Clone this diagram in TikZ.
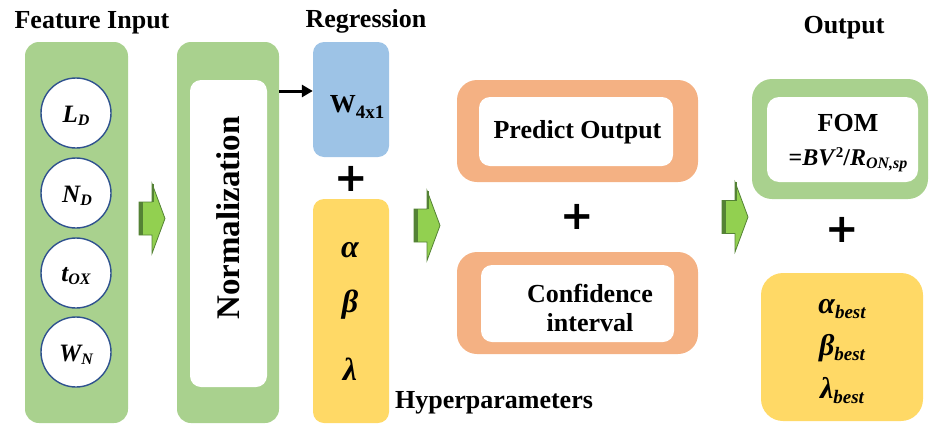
\documentclass[tikz,border=0pt]{standalone}
\usepackage{fontspec}
\setmainfont{Liberation Serif}
\newfontfamily\plusfont{DejaVu Sans}
\usetikzlibrary{calc,arrows.meta}

\definecolor{boxgreen}{HTML}{A9D18E}
\definecolor{boxblue}{HTML}{9DC3E6}
\definecolor{boxyellow}{HTML}{FFD966}
\definecolor{boxorange}{HTML}{F4B183}
\definecolor{arrowlight}{HTML}{92D050}
\definecolor{arrowdark}{HTML}{548235}
\definecolor{ringblue}{HTML}{2F528F}

\newcommand{\setsz}[1]{\fontsize{#1}{#1}\selectfont}
% subscripts set by hand in the serif text font
\newcommand{\lowsub}[2][3pt]{\raisebox{-#1}{\setsz{16}#2}}

% block arrow between stages: tail at (#2,#3), pointing right
\newcommand{\stagearrow}[3]{%
  \coordinate (#1) at (#2,#3);
  \begin{scope}[shift={(#1)}]
    \filldraw[fill=arrowlight, draw=arrowdark, line width=0.8pt]
      (0,-16.5) -- (13,-16.5) -- (13,-35) -- (26,0) -- (13,35) -- (13,16.5) -- (0,16.5) -- cycle;
    \fill[arrowdark] (0,-16.5) rectangle (4,16.5);
    \fill[arrowdark] (13,-35) rectangle (15,-16.5);
  \end{scope}}

\tikzset{
  panel/.style={rectangle, rounded corners=14pt, inner sep=0pt, draw=none},
  innerpanel/.style={rectangle, rounded corners=11pt, inner sep=0pt, fill=white},
  feature/.style={circle, draw=ringblue, line width=1.4pt, fill=white, minimum size=70pt, inner sep=0pt},
  heading/.style={anchor=base, inner sep=0pt, font=\setsz{26}\bfseries},
  boxtext/.style={anchor=base, inner sep=0pt, font=\setsz{26}\bfseries},
  mathtext/.style={anchor=base, inner sep=0pt, font=\setsz{25}\bfseries\itshape},
  plussign/.style={inner sep=0pt, font=\plusfont\setsz{40}\bfseries},
  linkarrow/.style={line width=3pt, -{Triangle[length=11pt,width=12pt]}},
}

\begin{document}
\begin{tikzpicture}[x=1pt, y=-1pt]
\useasboundingbox (0,0) rectangle (929,426);

% headings
\node[heading] (hfeat) at (92,28) {Feature Input};
\node[heading] (hreg) at (366,27) {Regression};
\node[heading] (hout) at (844,33) {Output};
\node[heading] (hhyp) at (494,408) {Hyperparameters};

% feature input column
\node[panel, fill=boxgreen, minimum width=103pt, minimum height=381pt] (feat) at (76.5,232.5) {};
\node[feature] (ld) at (76,113) {};
\node[feature] (nd) at (76,193) {};
\node[feature] (tox) at (76,273) {};
\node[feature] (wn) at (76,352) {};
\node[mathtext] (ldt) at (76,122) {L\lowsub{D}};
\node[mathtext] (ndt) at (77,202) {N\lowsub{D}};
\node[mathtext] (toxt) at (76,281) {t\lowsub{OX}};
\node[mathtext] (wnt) at (76,361) {W\lowsub{N}};

\stagearrow{a1}{139}{218.5}

% normalization stage
\node[panel, fill=boxgreen, minimum width=102pt, minimum height=381pt] (norm) at (228,232.5) {};
\node[innerpanel, minimum width=77pt, minimum height=307pt] (normin) at (228.5,233.5) {};
\node[inner sep=0pt, rotate=90, font=\setsz{33}\bfseries] (normt) at (228,218) {Normalization};

% regression weights and hyperparameters
\node[panel, rounded corners=11pt, fill=boxblue, minimum width=76pt, minimum height=115pt] (wbox) at (351,99.5) {};
\node[boxtext] (wt) at (357,112) {W\lowsub[6pt]{\setsz{19}4x1}};
\coordinate (nout) at (279,91);
\draw[linkarrow] (nout) -- (nout -| wbox.west);
\node[plussign] (p1) at (351,179) {+};
\node[panel, rounded corners=11pt, fill=boxyellow, minimum width=76pt, minimum height=224pt] (hyp) at (351,311) {};
\node[mathtext, font=\setsz{32}\bfseries\itshape] (alpha) at (350,257) {α};
\node[mathtext, font=\setsz{32}\bfseries\itshape] (beta) at (350,312) {β};
\node[mathtext, font=\setsz{32}\bfseries\itshape] (lambda) at (350,380) {λ};

\stagearrow{a2}{414}{225.5}

% prediction and confidence interval
\node[panel, rounded corners=20pt, fill=boxorange, minimum width=241pt, minimum height=102pt] (pred) at (577.5,131) {};
\node[innerpanel, minimum width=194pt, minimum height=69pt] (predin) at (576,131.5) {};
\node[boxtext] (predt) at (577.5,138) {Predict Output};
\node[plussign] (p2) at (577,217) {+};
\node[panel, rounded corners=20pt, fill=boxorange, minimum width=241pt, minimum height=102pt] (conf) at (577.5,303) {};
\node[innerpanel, minimum width=193pt, minimum height=77pt] (confin) at (577.5,303.5) {};
\node[inner sep=0pt, align=center, font=\setsz{26}\bfseries] (conft) at (590,308) {Confidence\\[3pt]interval};

\stagearrow{a3}{722}{217}

% output
\node[panel, rounded corners=20pt, fill=boxgreen, minimum width=176pt, minimum height=120pt] (fom) at (840,139) {};
\node[innerpanel, rounded corners=12pt, minimum width=151pt, minimum height=85pt] (fomin) at (842.5,139.5) {};
\node[boxtext] (fomt) at (848,131) {FOM};
\node[boxtext, font=\setsz{24}\bfseries] (fomf) at (848,165)
  {=\textit{BV}\raisebox{8pt}{\setsz{15}2}/\textit{R}\lowsub{\textit{ON,sp}}};
\node[plussign] (p3) at (842,230) {+};
\node[panel, rounded corners=22pt, fill=boxyellow, minimum width=162pt, minimum height=148pt] (best) at (842,347) {};
\node[mathtext, font=\setsz{30}\bfseries\itshape] (abest) at (842,313) {α\lowsub[5pt]{\setsz{19}best}};
\node[mathtext, font=\setsz{30}\bfseries\itshape] (bbest) at (842,355) {β\lowsub[5pt]{\setsz{19}best}};
\node[mathtext, font=\setsz{30}\bfseries\itshape] (lbest) at (842,398) {λ\lowsub[5pt]{\setsz{19}best}};
\end{tikzpicture}
\end{document}
